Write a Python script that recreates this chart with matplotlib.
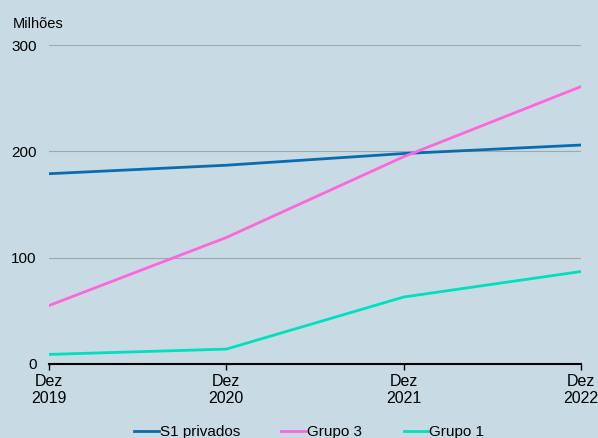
import matplotlib.pyplot as plt

plt.rcParams['font.family'] = ['Liberation Sans', 'DejaVu Sans']

periods = ['Dez\n2019', 'Dez\n2020', 'Dez\n2021', 'Dez\n2022']
s1_privados = [179, 187, 198, 206]
grupo_3 = [55, 119, 195, 261]
grupo_1 = [9, 14, 63, 87]

bg = '#c8dae3'
fig = plt.figure(figsize=(5.98, 4.38), dpi=100, facecolor=bg)
ax = fig.add_axes([0.082, 0.169, 0.8896, 0.728], facecolor=bg)

x = range(len(periods))
ax.plot(x, s1_privados, color='#0a6cb0', lw=2, label='S1 privados')
ax.plot(x, grupo_3, color='#ff66dd', lw=2, label='Grupo 3')
ax.plot(x, grupo_1, color='#00dfc0', lw=2, label='Grupo 1')

ax.set_xlim(0, 3)
ax.set_ylim(0, 300)
ax.set_yticks([0, 100, 200, 300])
ax.set_xticks(list(x))
ax.set_xticklabels(periods, fontsize=11.5)
ax.tick_params(axis='y', length=0, labelsize=11, pad=9)
ax.tick_params(axis='x', length=4, width=1, direction='out', pad=3)
ax.grid(axis='y', color='#a0a8ad', lw=0.8)
ax.set_axisbelow(True)
for side in ['top', 'right', 'left']:
    ax.spines[side].set_visible(False)
ax.spines['bottom'].set_linewidth(1.5)
ax.spines['bottom'].set_zorder(5)

fig.text(0.022, 0.935, 'Milhões', fontsize=10.5)

fig.legend(loc='center', bbox_to_anchor=(0.517, 0.014), ncol=3, frameon=False,
           fontsize=11, handlelength=1.65, handletextpad=0.05, columnspacing=2.7,
           borderaxespad=0, borderpad=0)

fig.savefig('out.png', dpi=100, facecolor=bg)
